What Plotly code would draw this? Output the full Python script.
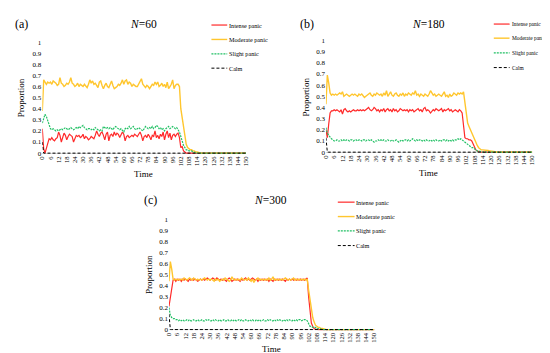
import plotly.graph_objects as go

TIME = list(range(0, 151))
X_TICKS = [0, 6, 12, 18, 24, 30, 36, 42, 48, 54, 60, 66, 72, 78, 84, 90, 96,
           102, 108, 114, 120, 126, 132, 138, 144, 150]
Y_TICKS = [0, 0.1, 0.2, 0.3, 0.4, 0.5, 0.6, 0.7, 0.8, 0.9, 1]
Y_LABELS = ["0", "0.1", "0.2", "0.3", "0.4", "0.5", "0.6", "0.7", "0.8", "0.9", "1"]
SERIES_NAMES = ["Intense panic", "Moderate panic", "Slight panic", "Calm"]
PANEL_LABELS = ["(a)", "(b)", "(c)"]
PANEL_TITLES = ["<i>N</i>=60", "<i>N</i>=180", "<i>N</i>=300"]

# ---------------- N = 60 ----------------
a_intense = [
    0.22, 0.04, 0.00, 0.05, 0.10, 0.13, 0.12, 0.14, 0.12, 0.11,
    0.13, 0.14, 0.19, 0.16, 0.10, 0.14, 0.18, 0.16, 0.12, 0.15,
    0.17, 0.16, 0.15, 0.10, 0.14, 0.16, 0.15, 0.16, 0.14, 0.15,
    0.17, 0.13, 0.15, 0.14, 0.12, 0.13, 0.15, 0.14, 0.13, 0.16,
    0.20, 0.17, 0.15, 0.18, 0.19, 0.16, 0.12, 0.17, 0.19, 0.11,
    0.16, 0.17, 0.15, 0.19, 0.16, 0.18, 0.17, 0.14, 0.16, 0.19,
    0.17, 0.11, 0.15, 0.16, 0.14, 0.15, 0.16, 0.15, 0.17, 0.16,
    0.15, 0.17, 0.19, 0.16, 0.11, 0.15, 0.16, 0.14, 0.17, 0.15,
    0.12, 0.16, 0.15, 0.20, 0.14, 0.16, 0.13, 0.17, 0.15, 0.19,
    0.12, 0.17, 0.20, 0.14, 0.18, 0.12, 0.16, 0.17, 0.15, 0.17,
    0.18, 0.14, 0.05, 0.06, 0.02, 0.01, 0, 0, 0, 0,
    0, 0, 0, 0, 0, 0, 0, 0, 0, 0,
    0, 0, 0, 0, 0, 0, 0, 0, 0, 0,
    0, 0, 0, 0, 0, 0, 0, 0, 0, 0,
    0, 0, 0, 0, 0, 0, 0, 0, 0, 0,
    0,
]
a_moderate = [
    0.38, 0.66, 0.64, 0.62, 0.64, 0.63, 0.64, 0.62, 0.65, 0.64,
    0.63, 0.61, 0.62, 0.68, 0.63, 0.62, 0.60, 0.61, 0.63, 0.62,
    0.64, 0.68, 0.63, 0.62, 0.60, 0.61, 0.63, 0.60, 0.62, 0.61,
    0.60, 0.62, 0.60, 0.59, 0.62, 0.66, 0.63, 0.65, 0.62, 0.63,
    0.61, 0.59, 0.64, 0.65, 0.61, 0.58, 0.61, 0.63, 0.60, 0.59,
    0.62, 0.65, 0.61, 0.58, 0.59, 0.60, 0.62, 0.61, 0.63, 0.66,
    0.62, 0.65, 0.66, 0.62, 0.64, 0.63, 0.60, 0.62, 0.61, 0.60,
    0.60, 0.62, 0.64, 0.67, 0.62, 0.60, 0.59, 0.61, 0.60, 0.58,
    0.60, 0.62, 0.61, 0.64, 0.62, 0.64, 0.60, 0.61, 0.63, 0.60,
    0.62, 0.59, 0.64, 0.58, 0.60, 0.62, 0.66, 0.58, 0.61, 0.62,
    0.62, 0.60, 0.40, 0.32, 0.22, 0.14, 0.08, 0.05, 0.04, 0.03,
    0.03, 0.02, 0.02, 0.01, 0.01, 0.005, 0, 0, 0, 0,
    0, 0, 0, 0, 0, 0, 0, 0, 0, 0,
    0, 0, 0, 0, 0, 0, 0, 0, 0, 0,
    0, 0, 0, 0, 0, 0, 0, 0, 0, 0,
    0,
]
a_slight = [
    0.27, 0.31, 0.35, 0.33, 0.29, 0.25, 0.22, 0.21, 0.22, 0.21,
    0.20, 0.21, 0.20, 0.21, 0.22, 0.21, 0.22, 0.23, 0.22, 0.21,
    0.22, 0.23, 0.22, 0.21, 0.22, 0.23, 0.22, 0.24, 0.23, 0.24,
    0.25, 0.23, 0.22, 0.21, 0.22, 0.22, 0.21, 0.22, 0.21, 0.23,
    0.22, 0.21, 0.20, 0.21, 0.20, 0.24, 0.23, 0.22, 0.23, 0.22,
    0.23, 0.22, 0.21, 0.23, 0.24, 0.23, 0.22, 0.21, 0.22, 0.20,
    0.19, 0.22, 0.23, 0.22, 0.24, 0.22, 0.23, 0.24, 0.22, 0.21,
    0.22, 0.23, 0.22, 0.21, 0.20, 0.22, 0.24, 0.23, 0.22, 0.23,
    0.22, 0.24, 0.22, 0.23, 0.25, 0.24, 0.22, 0.23, 0.21, 0.22,
    0.20, 0.22, 0.23, 0.24, 0.22, 0.23, 0.24, 0.23, 0.22, 0.23,
    0.21, 0.19, 0.15, 0.10, 0.07, 0.05, 0.03, 0.03, 0.02, 0.02,
    0.02, 0.01, 0.01, 0.005, 0, 0, 0, 0, 0, 0,
    0, 0, 0, 0, 0, 0, 0, 0, 0, 0,
    0, 0, 0, 0, 0, 0, 0, 0, 0, 0,
    0, 0, 0, 0, 0, 0, 0, 0, 0, 0,
    0,
]
a_calm = [
    0.10, 0, 0, 0, 0, 0, 0, 0, 0, 0,
    0, 0, 0, 0, 0, 0, 0, 0, 0, 0,
    0, 0, 0, 0, 0, 0, 0, 0, 0, 0,
    0, 0, 0, 0, 0, 0, 0, 0, 0, 0,
    0, 0, 0, 0, 0, 0, 0, 0, 0, 0,
    0, 0, 0, 0, 0, 0, 0, 0, 0, 0,
    0, 0, 0, 0, 0, 0, 0, 0, 0, 0,
    0, 0, 0, 0, 0, 0, 0, 0, 0, 0,
    0, 0, 0, 0, 0, 0, 0, 0, 0, 0,
    0, 0, 0, 0, 0, 0, 0, 0, 0, 0,
    0, 0, 0, 0, 0, 0, 0, 0, 0, 0,
    0, 0, 0, 0, 0, 0, 0, 0, 0, 0,
    0, 0, 0, 0, 0, 0, 0, 0, 0, 0,
    0, 0, 0, 0, 0, 0, 0, 0, 0, 0,
    0, 0, 0, 0, 0, 0, 0, 0, 0, 0,
    0,
]

# ---------------- N = 180 ----------------
b_intense = [
    0.20, 0.13, 0.25, 0.35, 0.37, 0.37, 0.38, 0.37, 0.38, 0.37,
    0.36, 0.38, 0.34, 0.38, 0.39, 0.37, 0.36, 0.37, 0.36, 0.37,
    0.38, 0.37, 0.37, 0.38, 0.37, 0.38, 0.37, 0.38, 0.37, 0.38,
    0.39, 0.40, 0.38, 0.37, 0.38, 0.40, 0.39, 0.37, 0.38, 0.36,
    0.38, 0.37, 0.39, 0.36, 0.38, 0.39, 0.37, 0.38, 0.36, 0.39,
    0.37, 0.38, 0.36, 0.37, 0.39, 0.38, 0.37, 0.38, 0.37, 0.38,
    0.36, 0.38, 0.37, 0.38, 0.36, 0.37, 0.38, 0.39, 0.37, 0.38,
    0.36, 0.39, 0.40, 0.37, 0.38, 0.37, 0.35, 0.37, 0.38, 0.37,
    0.39, 0.38, 0.37, 0.38, 0.39, 0.36, 0.38, 0.37, 0.38, 0.39,
    0.37, 0.38, 0.36, 0.37, 0.38, 0.37, 0.36, 0.38, 0.37, 0.35,
    0.25, 0.13, 0.12, 0.12, 0.11, 0.11, 0.10, 0.07, 0.04, 0.02,
    0.01, 0.005, 0, 0, 0, 0, 0, 0, 0, 0,
    0, 0, 0, 0, 0, 0, 0, 0, 0, 0,
    0, 0, 0, 0, 0, 0, 0, 0, 0, 0,
    0, 0, 0, 0, 0, 0, 0, 0, 0, 0,
    0,
]
b_moderate = [
    0.43, 0.69, 0.62, 0.53, 0.51, 0.52, 0.51, 0.52, 0.51, 0.52,
    0.53, 0.52, 0.54, 0.50, 0.51, 0.52, 0.51, 0.50, 0.51, 0.52,
    0.51, 0.52, 0.51, 0.50, 0.52, 0.51, 0.52, 0.50, 0.49, 0.50,
    0.51, 0.52, 0.53, 0.51, 0.50, 0.52, 0.51, 0.53, 0.52, 0.51,
    0.52, 0.50, 0.53, 0.51, 0.55, 0.50, 0.52, 0.54, 0.51, 0.50,
    0.52, 0.53, 0.51, 0.50, 0.52, 0.51, 0.53, 0.50, 0.52, 0.51,
    0.53, 0.52, 0.51, 0.53, 0.52, 0.55, 0.51, 0.52, 0.50, 0.52,
    0.51, 0.50, 0.52, 0.51, 0.50, 0.52, 0.55, 0.53, 0.51, 0.52,
    0.50, 0.51, 0.52, 0.51, 0.50, 0.52, 0.54, 0.50, 0.51, 0.49,
    0.52, 0.50, 0.51, 0.53, 0.52, 0.51, 0.53, 0.52, 0.53, 0.52,
    0.54, 0.45, 0.34, 0.26, 0.23, 0.20, 0.17, 0.14, 0.11, 0.08,
    0.06, 0.04, 0.03, 0.02, 0.02, 0.02, 0.02, 0.015, 0.015, 0.01,
    0.01, 0.01, 0.005, 0.005, 0, 0, 0, 0, 0, 0,
    0, 0, 0, 0, 0, 0, 0, 0, 0, 0,
    0, 0, 0, 0, 0, 0, 0, 0, 0, 0,
    0,
]
b_slight = [
    0.22, 0.17, 0.15, 0.13, 0.12, 0.11, 0.10, 0.10, 0.11, 0.10,
    0.10, 0.11, 0.10, 0.11, 0.10, 0.11, 0.11, 0.10, 0.11, 0.11,
    0.10, 0.11, 0.11, 0.10, 0.11, 0.11, 0.10, 0.11, 0.11, 0.10,
    0.11, 0.11, 0.10, 0.11, 0.10, 0.09, 0.10, 0.10, 0.11, 0.10,
    0.11, 0.10, 0.11, 0.10, 0.10, 0.11, 0.10, 0.10, 0.11, 0.10,
    0.10, 0.11, 0.10, 0.09, 0.10, 0.11, 0.10, 0.11, 0.11, 0.10,
    0.11, 0.10, 0.11, 0.12, 0.11, 0.10, 0.11, 0.10, 0.11, 0.11,
    0.10, 0.11, 0.10, 0.11, 0.10, 0.10, 0.11, 0.10, 0.11, 0.10,
    0.11, 0.10, 0.10, 0.11, 0.10, 0.11, 0.11, 0.10, 0.11, 0.10,
    0.11, 0.10, 0.11, 0.10, 0.11, 0.11, 0.12, 0.11, 0.12, 0.11,
    0.10, 0.09, 0.08, 0.07, 0.06, 0.05, 0.04, 0.04, 0.03, 0.02,
    0.01, 0.01, 0.005, 0, 0, 0, 0, 0, 0, 0,
    0, 0, 0, 0, 0, 0, 0, 0, 0, 0,
    0, 0, 0, 0, 0, 0, 0, 0, 0, 0,
    0, 0, 0, 0, 0, 0, 0, 0, 0, 0,
    0,
]
b_calm = [
    0.13, 0, 0, 0, 0, 0, 0, 0, 0, 0,
    0, 0, 0, 0, 0, 0, 0, 0, 0, 0,
    0, 0, 0, 0, 0, 0, 0, 0, 0, 0,
    0, 0, 0, 0, 0, 0, 0, 0, 0, 0,
    0, 0, 0, 0, 0, 0, 0, 0, 0, 0,
    0, 0, 0, 0, 0, 0, 0, 0, 0, 0,
    0, 0, 0, 0, 0, 0, 0, 0, 0, 0,
    0, 0, 0, 0, 0, 0, 0, 0, 0, 0,
    0, 0, 0, 0, 0, 0, 0, 0, 0, 0,
    0, 0, 0, 0, 0, 0, 0, 0, 0, 0,
    0, 0, 0, 0, 0, 0, 0, 0, 0, 0,
    0, 0, 0, 0, 0, 0, 0, 0, 0, 0,
    0, 0, 0, 0, 0, 0, 0, 0, 0, 0,
    0, 0, 0, 0, 0, 0, 0, 0, 0, 0,
    0, 0, 0, 0, 0, 0, 0, 0, 0, 0,
    0,
]

# ---------------- N = 300 ----------------
c_intense = [
    0.21, 0.29, 0.38, 0.45, 0.46, 0.44, 0.46, 0.45, 0.46, 0.44,
    0.46, 0.45, 0.46, 0.45, 0.44, 0.46, 0.45, 0.46, 0.45, 0.46,
    0.45, 0.44, 0.45, 0.46, 0.45, 0.46, 0.45, 0.46, 0.47, 0.46,
    0.45, 0.46, 0.47, 0.46, 0.45, 0.47, 0.46, 0.45, 0.46, 0.45,
    0.46, 0.45, 0.44, 0.46, 0.47, 0.46, 0.44, 0.45, 0.46, 0.45,
    0.46, 0.45, 0.44, 0.46, 0.45, 0.46, 0.47, 0.45, 0.46, 0.45,
    0.46, 0.47, 0.46, 0.45, 0.46, 0.44, 0.46, 0.45, 0.46, 0.45,
    0.46, 0.45, 0.46, 0.44, 0.46, 0.45, 0.44, 0.46, 0.45, 0.46,
    0.45, 0.46, 0.45, 0.46, 0.45, 0.44, 0.46, 0.45, 0.46, 0.45,
    0.46, 0.45, 0.46, 0.45, 0.46, 0.45, 0.46, 0.45, 0.46, 0.45,
    0.46, 0.47, 0.30, 0.15, 0.06, 0.03, 0.01, 0.005, 0, 0,
    0, 0, 0, 0, 0, 0, 0, 0, 0, 0,
    0, 0, 0, 0, 0, 0, 0, 0, 0, 0,
    0, 0, 0, 0, 0, 0, 0, 0, 0, 0,
    0, 0, 0, 0, 0, 0, 0, 0, 0, 0,
    0,
]
c_moderate = [
    0.44, 0.62, 0.55, 0.46, 0.45, 0.46, 0.45, 0.46, 0.45, 0.46,
    0.45, 0.47, 0.46, 0.45, 0.46, 0.47, 0.46, 0.45, 0.47, 0.46,
    0.45, 0.46, 0.45, 0.46, 0.45, 0.46, 0.47, 0.46, 0.45, 0.46,
    0.45, 0.46, 0.45, 0.44, 0.46, 0.45, 0.46, 0.44, 0.45, 0.46,
    0.45, 0.47, 0.46, 0.45, 0.44, 0.45, 0.48, 0.46, 0.45, 0.46,
    0.45, 0.46, 0.45, 0.47, 0.46, 0.45, 0.46, 0.45, 0.47, 0.45,
    0.44, 0.46, 0.43, 0.45, 0.46, 0.47, 0.45, 0.46, 0.45, 0.46,
    0.45, 0.46, 0.45, 0.47, 0.45, 0.46, 0.48, 0.45, 0.46, 0.45,
    0.46, 0.45, 0.46, 0.45, 0.46, 0.47, 0.46, 0.45, 0.46, 0.45,
    0.46, 0.47, 0.45, 0.46, 0.45, 0.46, 0.45, 0.46, 0.45, 0.46,
    0.45, 0.46, 0.36, 0.27, 0.18, 0.11, 0.07, 0.04, 0.03, 0.02,
    0.02, 0.01, 0.01, 0.005, 0, 0, 0, 0, 0, 0,
    0, 0, 0, 0, 0, 0, 0, 0, 0, 0,
    0, 0, 0, 0, 0, 0, 0, 0, 0, 0,
    0, 0, 0, 0, 0, 0, 0, 0, 0, 0,
    0,
]
c_slight = [
    0.20, 0.13, 0.11, 0.10, 0.10, 0.09, 0.09, 0.08, 0.09, 0.08,
    0.09, 0.08, 0.08, 0.09, 0.08, 0.09, 0.08, 0.08, 0.09, 0.08,
    0.08, 0.09, 0.08, 0.08, 0.09, 0.08, 0.08, 0.09, 0.08, 0.09,
    0.08, 0.08, 0.09, 0.08, 0.09, 0.08, 0.08, 0.09, 0.08, 0.08,
    0.09, 0.08, 0.08, 0.09, 0.08, 0.08, 0.09, 0.08, 0.09, 0.08,
    0.08, 0.09, 0.08, 0.09, 0.08, 0.08, 0.09, 0.08, 0.08, 0.09,
    0.08, 0.09, 0.08, 0.08, 0.09, 0.08, 0.09, 0.08, 0.08, 0.09,
    0.08, 0.08, 0.09, 0.08, 0.09, 0.08, 0.08, 0.09, 0.08, 0.09,
    0.08, 0.09, 0.08, 0.08, 0.09, 0.08, 0.09, 0.08, 0.09, 0.08,
    0.08, 0.09, 0.08, 0.09, 0.08, 0.09, 0.09, 0.08, 0.09, 0.09,
    0.09, 0.08, 0.05, 0.03, 0.03, 0.02, 0.02, 0.02, 0.01, 0.01,
    0.01, 0.005, 0, 0, 0, 0, 0, 0, 0, 0,
    0, 0, 0, 0, 0, 0, 0, 0, 0, 0,
    0, 0, 0, 0, 0, 0, 0, 0, 0, 0,
    0, 0, 0, 0, 0, 0, 0, 0, 0, 0,
    0,
]
c_calm = [
    0.14, 0, 0, 0, 0, 0, 0, 0, 0, 0,
    0, 0, 0, 0, 0, 0, 0, 0, 0, 0,
    0, 0, 0, 0, 0, 0, 0, 0, 0, 0,
    0, 0, 0, 0, 0, 0, 0, 0, 0, 0,
    0, 0, 0, 0, 0, 0, 0, 0, 0, 0,
    0, 0, 0, 0, 0, 0, 0, 0, 0, 0,
    0, 0, 0, 0, 0, 0, 0, 0, 0, 0,
    0, 0, 0, 0, 0, 0, 0, 0, 0, 0,
    0, 0, 0, 0, 0, 0, 0, 0, 0, 0,
    0, 0, 0, 0, 0, 0, 0, 0, 0, 0,
    0, 0, 0, 0, 0, 0, 0, 0, 0, 0,
    0, 0, 0, 0, 0, 0, 0, 0, 0, 0,
    0, 0, 0, 0, 0, 0, 0, 0, 0, 0,
    0, 0, 0, 0, 0, 0, 0, 0, 0, 0,
    0, 0, 0, 0, 0, 0, 0, 0, 0, 0,
    0,
]

PANELS = [
    [a_intense, a_moderate, a_slight, a_calm],
    [b_intense, b_moderate, b_slight, b_calm],
    [c_intense, c_moderate, c_slight, c_calm],
]

# ---------------- styling / layout ----------------
W, H = 550, 353
FONT = "Liberation Serif, Times New Roman, serif"
STYLES = [
    dict(color="#FF2A2A", width=1.2, dash="solid"),
    dict(color="#FFC62E", width=1.4, dash="solid"),
    dict(color="#22C065", width=1.2, dash="2px,1px"),
    dict(color="#000000", width=1.0, dash="3px,2px"),
]

def px_x(p):
    return p / W

def px_y(p):
    return 1 - p / H

# pixel boxes: (x of value 0, x of value 150, y of value 0, y of value 1)
BOXES = [
    (30.7, 237.0, 144.0, 30.7),
    (318.0, 527.0, 143.0, 29.0),
    (159.0, 367.0, 324.0, 212.0),
]
Y_MIN = -0.01

fig = go.Figure()
layout = dict(
    width=W, height=H, margin=dict(l=0, r=0, t=0, b=0),
    paper_bgcolor="white", plot_bgcolor="white", showlegend=False,
    font=dict(family=FONT, color="#000000"),
)
annotations = []
shapes = []

for i, (series, box) in enumerate(zip(PANELS, BOXES)):
    xa = "x" if i == 0 else f"x{i+1}"
    ya = "y" if i == 0 else f"y{i+1}"
    xkey = "xaxis" if i == 0 else f"xaxis{i+1}"
    ykey = "yaxis" if i == 0 else f"yaxis{i+1}"
    x0, x1, y0, y1 = box
    ybot = y0 + (y0 - y1) * (-Y_MIN)
    for vals, st, name in zip(series, STYLES, SERIES_NAMES):
        fig.add_trace(go.Scatter(x=TIME, y=vals, xaxis=xa, yaxis=ya, mode="lines",
                                 name=name, line=st, hoverinfo="skip"))
    layout[xkey] = dict(
        domain=[px_x(x0), px_x(x1)], range=[0, 150], anchor=ya,
        tickmode="array", tickvals=X_TICKS, ticktext=[str(v) for v in X_TICKS],
        tickangle=-90, tickfont=dict(size=6.5, family=FONT), showgrid=False,
        zeroline=False, showline=False, ticks="", ticklen=0,
    )
    layout[ykey] = dict(
        domain=[px_y(ybot), px_y(y1)], range=[Y_MIN, 1.0], anchor=xa,
        tickmode="array", tickvals=Y_TICKS, ticktext=Y_LABELS,
        tickfont=dict(size=7, family=FONT), showgrid=False,
        zeroline=True, zerolinecolor="#D9D9D9", zerolinewidth=0.8,
        showline=False, ticks="", ticklen=0,
    )

# panel texts (pixel positions)
TEXT_POS = [
    dict(lab=(10, 12.5), title=(133, 12.5), time=(133, 165), prop=(9, 87),
         leg_line=(202, 218), leg_text=220, leg_rows=[13.3, 28, 42.7, 57.3], leg_size=6.2),
    dict(lab=(299, 12), title=(422, 12), time=(422, 164), prop=(298, 87),
         leg_line=(488, 504), leg_text=506, leg_rows=[12.3, 26.7, 41.7, 56.7], leg_size=5.4),
    dict(lab=(140, 192), title=(262, 192), time=(263, 344), prop=(138, 268),
         leg_line=(330, 347), leg_text=348, leg_rows=[194, 208.7, 223.3, 238.3], leg_size=6.2),
]

for i, tp in enumerate(TEXT_POS):
    annotations.append(dict(x=px_x(tp["lab"][0]), y=px_y(tp["lab"][1]), xref="paper", yref="paper",
                            text=PANEL_LABELS[i], showarrow=False, xanchor="center", yanchor="middle",
                            font=dict(size=12, family=FONT)))
    annotations.append(dict(x=px_x(tp["title"][0]), y=px_y(tp["title"][1]), xref="paper", yref="paper",
                            text=PANEL_TITLES[i], showarrow=False, xanchor="center", yanchor="middle",
                            font=dict(size=11.5, family=FONT)))
    annotations.append(dict(x=px_x(tp["time"][0]), y=px_y(tp["time"][1]), xref="paper", yref="paper",
                            text="Time", showarrow=False, xanchor="center", yanchor="middle",
                            font=dict(size=9, family=FONT)))
    annotations.append(dict(x=px_x(tp["prop"][0]), y=px_y(tp["prop"][1]), xref="paper", yref="paper",
                            text="Proportion", showarrow=False, xanchor="center", yanchor="middle",
                            textangle=-90, font=dict(size=9, family=FONT)))
    for name, st, ry in zip(SERIES_NAMES, STYLES, tp["leg_rows"]):
        shapes.append(dict(type="line", xref="paper", yref="paper",
                           x0=px_x(tp["leg_line"][0]), x1=px_x(tp["leg_line"][1]),
                           y0=px_y(ry), y1=px_y(ry),
                           line=dict(color=st["color"], width=st["width"], dash=st["dash"])))
        annotations.append(dict(x=px_x(tp["leg_text"]), y=px_y(ry), xref="paper", yref="paper",
                                text=name, showarrow=False, xanchor="left", yanchor="middle",
                                borderpad=0, borderwidth=0,
                                font=dict(size=tp["leg_size"], family=FONT)))

layout["annotations"] = annotations
layout["shapes"] = shapes
fig.update_layout(**layout)
fig.write_html("out.html")
